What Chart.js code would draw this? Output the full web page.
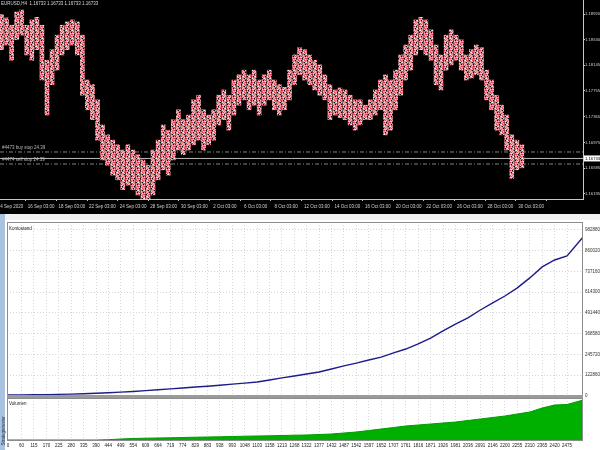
<!DOCTYPE html>
<html>
<head>
<meta charset="utf-8">
<script src="https://cdn.jsdelivr.net/npm/chart.js@4.4.1/dist/chart.umd.min.js"></script>
<style>
  html, body { margin: 0; padding: 0; background: #fff; }
  #wrap { position: relative; width: 600px; height: 450px; overflow: hidden; background: #f0f0f0;
          font-family: "Liberation Sans Narrow", "Liberation Sans", sans-serif; }
  canvas { position: absolute; left: 0; }
  #cPrice { top: 0; background: #000; }
  #cBal { top: 220px; background: #fff; }
  #cVol { top: 398px; background: #fff; }
  #sep { position: absolute; left: 7px; top: 395px; width: 576px; height: 3px; background: #9a9a9a; }
  #tab { position: absolute; left: 0; top: 214px; width: 5px; height: 236px; background: #a9c2e0; }
  #tabtxt { position: absolute; left: -22px; top: 418px; width: 50px; font-size: 4.5px; color: #203050;
            transform: rotate(-90deg); white-space: nowrap; }
  .lbl { position: absolute; font-size: 4.5px; color: #202020; }
</style>
</head>
<body>
<div id="wrap">
  <canvas id="cPrice" width="600" height="214"></canvas>
  <canvas id="cBal" width="600" height="178"></canvas>
  <canvas id="cVol" width="600" height="52"></canvas>
  <div id="sep"></div>
  <div id="tab"></div>
  <div id="tabtxt">Strategietester</div>
  <div class="lbl" style="left:9px;top:226px">Kontostand</div>
  <div class="lbl" style="left:9px;top:401px">Volumen</div>
</div>
<script>
  "use strict";

  // --- EURUSD H4: high/low per column (2 bars each) ---
  const priceHi = [
    1.1891, 1.1886, 1.1875, 1.1895, 1.1898, 1.1875, 1.1883, 1.1887, 1.1875, 1.1822,
    1.1838, 1.1860, 1.1875, 1.1880, 1.1883, 1.1880, 1.1860, 1.1792, 1.1785, 1.1762,
    1.1724, 1.1709, 1.1701, 1.1694, 1.1686, 1.1694, 1.1686, 1.1679, 1.1671, 1.1663,
    1.1686, 1.1701, 1.1724, 1.1716, 1.1732, 1.1747, 1.1732, 1.1739, 1.1762, 1.1769,
    1.1747, 1.1739, 1.1747, 1.1769, 1.1777, 1.1769, 1.1792, 1.1800, 1.1807, 1.1800,
    1.1807, 1.1792, 1.1800, 1.1807, 1.1792, 1.1785, 1.1781, 1.1807, 1.1830, 1.1841,
    1.1838, 1.1830, 1.1822, 1.1815, 1.1800, 1.1785, 1.1777, 1.1780, 1.1777, 1.1769,
    1.1762, 1.1762, 1.1754, 1.1762, 1.1777, 1.1792, 1.1800, 1.1792, 1.1807, 1.1830,
    1.1845, 1.1860, 1.1883, 1.1887, 1.1883, 1.1868, 1.1845, 1.1830, 1.1860, 1.1868,
    1.1860, 1.1853, 1.1830, 1.1838, 1.1845, 1.1841, 1.1807, 1.1792, 1.1769, 1.1754,
    1.1739, 1.1709, 1.1701, 1.1694
  ];
  const priceLo = [
    1.1838, 1.1845, 1.1822, 1.1853, 1.1860, 1.1830, 1.1822, 1.1838, 1.1792, 1.1739,
    1.1785, 1.1807, 1.1830, 1.1838, 1.1845, 1.1830, 1.1769, 1.1747, 1.1732, 1.1701,
    1.1671, 1.1663, 1.1648, 1.1641, 1.1626, 1.1633, 1.1626, 1.1618, 1.1610, 1.1606,
    1.1618, 1.1641, 1.1656, 1.1648, 1.1671, 1.1686, 1.1679, 1.1686, 1.1694, 1.1701,
    1.1686, 1.1694, 1.1701, 1.1724, 1.1732, 1.1716, 1.1739, 1.1754, 1.1762, 1.1747,
    1.1754, 1.1739, 1.1754, 1.1762, 1.1747, 1.1739, 1.1747, 1.1762, 1.1785, 1.1800,
    1.1792, 1.1785, 1.1777, 1.1769, 1.1762, 1.1732, 1.1739, 1.1735, 1.1732, 1.1724,
    1.1716, 1.1724, 1.1732, 1.1732, 1.1739, 1.1747, 1.1709, 1.1716, 1.1747, 1.1769,
    1.1792, 1.1807, 1.1830, 1.1838, 1.1830, 1.1822, 1.1785, 1.1777, 1.1807, 1.1815,
    1.1822, 1.1807, 1.1792, 1.1795, 1.1800, 1.1792, 1.1762, 1.1747, 1.1716, 1.1709,
    1.1686, 1.1643, 1.1656, 1.1659
  ];
  const priceTicks = [1.18920, 1.18530, 1.18145, 1.17755, 1.17365, 1.16975, 1.16585, 1.16195];
  const timeLabels = [
    "14 Sep 2020", "16 Sep 03:00", "18 Sep 03:00", "22 Sep 03:00", "24 Sep 03:00", "28 Sep 03:00",
    "30 Sep 03:00", "2 Oct 03:00", "6 Oct 03:00", "8 Oct 03:00", "12 Oct 03:00", "14 Oct 03:00",
    "16 Oct 03:00", "20 Oct 03:00", "22 Oct 03:00", "26 Oct 03:00", "28 Oct 03:00", "30 Oct 03:00"
  ];
  const symbolTitle = "EURUSD,H4  1.16733 1.16733 1.16733 1.16733";
  const bidPrice = 1.16733;
  const orderNames = ["#4473 buy stop 24.39", "#4474 sell stop 24.39"];
  const orderPrices = [1.16831, 1.16649];

  // --- Strategy tester: balance and volume per trade number ---
  const tradeNo = [
    0, 60, 115, 170, 225, 280, 335, 390, 444, 499, 554, 609, 664, 719, 774, 829,
    883, 938, 993, 1048, 1103, 1158, 1213, 1268, 1322, 1377, 1432, 1487, 1542, 1597,
    1652, 1707, 1761, 1816, 1871, 1926, 1981, 2036, 2091, 2146, 2200, 2255, 2310,
    2365, 2420, 2475, 2546
  ];
  const balance = [
    6000, 6500, 7000, 8000, 9500, 11000, 13000, 16000, 19000, 23000, 27000, 32000,
    37000, 42000, 47000, 53000, 58000, 64000, 70000, 76000, 83000, 95000, 107000,
    118000, 130000, 142000, 160000, 178000, 195000, 213000, 230000, 255000, 278000,
    308000, 343000, 385000, 426000, 462000, 509000, 551000, 592000, 640000, 699000,
    764000, 805000, 829000, 941000
  ];
  const volume = [
    0, 0, 0, 0, 0, 0, 0, 0, 0.3, 1, 1.5, 1.8, 2, 2.2, 2.5, 2.8,
    3, 3.2, 3.5, 3.8, 4, 4.2, 4.5, 4.8, 5, 5.5, 6, 7, 8, 9.5,
    11, 12.5, 14, 15, 16, 17, 18, 19.5, 21, 22.5, 24, 26, 28,
    32, 35, 35.5, 40
  ];
  const balanceTicks = [0, 122860, 245720, 368580, 491440, 614300, 737160, 860020, 982880];

  const FONT = { family: "'Liberation Sans Narrow', 'Liberation Sans', sans-serif", size: 4.5 };
  const FONT_SMALL = { family: "'Liberation Sans Narrow', 'Liberation Sans', sans-serif", size: 4.2 };

  function fixBox(w, h) {
    return function (s) {
      if (w != null) s.width = w;
      if (h != null) s.height = h;
      s.paddingLeft = 0; s.paddingRight = 0; s.paddingTop = 0; s.paddingBottom = 0;
    };
  }

  // speckled fill standing in for the dense trade arrows on the bars
  function speckle(ctx) {
    const P = "#f27890", R = "#e04058", L = "#f8b4c4", W = "#fff0f4", K = "#000000",
      G = "#62a862", B = "#6070e0", S = "#f09a8a";
    const px = [
      P, R, L, S, P, K,
      L, W, P, R, L, P,
      R, P, K, L, S, R,
      S, L, R, P, G, L,
      P, K, L, W, R, P,
      L, R, P, S, L, B,
      W, P, S, R, K, L,
      R, L, P, L, P, R
    ];
    const c = document.createElement("canvas");
    c.width = 6; c.height = 8;
    const g = c.getContext("2d");
    px.forEach(function (col, i) {
      g.fillStyle = col;
      g.fillRect(i % 6, Math.floor(i / 6), 1, 1);
    });
    return ctx.createPattern(c, "repeat");
  }

  // texts on the price chart (title, order labels, bid box)
  const mtText = {
    id: "mtText",
    afterDraw(chart) {
      const ctx = chart.ctx;
      const y = chart.scales.y;
      const area = chart.chartArea;
      ctx.save();
      ctx.font = "4.5px 'Liberation Sans Narrow', 'Liberation Sans', sans-serif";
      ctx.textBaseline = "middle";
      ctx.fillStyle = "#d8d8d8";
      ctx.textAlign = "left";
      ctx.fillText(symbolTitle, 1, 4);
      orderNames.forEach(function (n, i) {
        ctx.fillStyle = "#b8b8b8";
        ctx.fillText(n, 2, y.getPixelForValue(orderPrices[i]) - 4);
      });
      const by = y.getPixelForValue(bidPrice);
      ctx.fillStyle = "#ffffff";
      ctx.fillRect(area.right + 1, by - 3, 16, 6);
      ctx.fillStyle = "#000000";
      ctx.font = "4.2px 'Liberation Sans Narrow', 'Liberation Sans', sans-serif";
      ctx.fillText(bidPrice.toFixed(5), area.right + 2, by);
      ctx.restore();
    }
  };

  const frame = {
    id: "frame",
    afterDraw(chart) {
      const a = chart.chartArea;
      const ctx = chart.ctx;
      ctx.save();
      ctx.strokeStyle = "#8c8c8c";
      ctx.lineWidth = 1;
      ctx.strokeRect(a.left + 0.5, a.top + 0.5, a.right - a.left - 1, a.bottom - a.top);
      ctx.restore();
    }
  };

  // --- price chart ---
  const ctxP = document.getElementById("cPrice").getContext("2d");
  const cols = priceHi.map(function (h, i) { return { x: i, y: [priceLo[i], h] }; });
  const X0 = -0.3, X1 = 115.1;
  function hline(p, color, dash) {
    return {
      type: "line", data: [{ x: X0, y: p }, { x: X1, y: p }],
      borderColor: color, borderWidth: 1, borderDash: dash, pointRadius: 0
    };
  }
  new Chart(ctxP, {
    type: "bar",
    data: {
      datasets: [
        { data: cols, backgroundColor: speckle(ctxP), barThickness: 4, grouped: false },
        hline(orderPrices[0], "#6f8f6f", [4, 2, 1, 2]),
        hline(bidPrice, "#bdbdbd", []),
        hline(orderPrices[1], "#6f8f6f", [4, 2, 1, 2])
      ]
    },
    options: {
      responsive: false, animation: false,
      layout: { padding: 0 },
      plugins: { legend: { display: false }, tooltip: { enabled: false } },
      scales: {
        x: {
          type: "linear", min: X0, max: X1, offset: false,
          grid: { drawOnChartArea: false, tickLength: 2, color: "#c8c8c8" },
          border: { display: true, color: "#c8c8c8" },
          afterBuildTicks: function (s) {
            s.ticks = timeLabels.map(function (t, k) { return { value: 1.8 + 6.06 * k }; });
          },
          ticks: {
            autoSkip: false, maxRotation: 0, color: "#d0d0d0", font: FONT, padding: 3,
            callback: function (v, i) { return timeLabels[i]; }
          },
          afterFit: fixBox(null, 15)
        },
        y: {
          position: "right", min: 1.16119, max: 1.19132,
          grid: { drawOnChartArea: false, tickLength: 2, color: "#c8c8c8" },
          border: { display: true, color: "#c8c8c8" },
          afterBuildTicks: function (s) { s.ticks = priceTicks.map(function (v) { return { value: v }; }); },
          ticks: { color: "#d0d0d0", font: FONT_SMALL, padding: 0, callback: function (v) { return v.toFixed(5); } },
          afterFit: fixBox(17, null)
        }
      }
    },
    plugins: [mtText]
  });

  // --- balance chart ---
  const XT0 = -4.4, XT1 = 2545.6;
  const gridStyle = { color: "#d6d6d6", drawTicks: false };
  new Chart(document.getElementById("cBal"), {
    type: "line",
    data: {
      datasets: [{
        data: tradeNo.map(function (t, i) { return { x: t, y: balance[i] }; }),
        borderColor: "#1c1c8a", borderWidth: 1.4, pointRadius: 0, tension: 0
      }]
    },
    options: {
      responsive: false, animation: false,
      layout: { padding: { left: 7, top: 2 } },
      plugins: { legend: { display: false }, tooltip: { enabled: false } },
      scales: {
        x: {
          type: "linear", min: XT0, max: XT1,
          grid: gridStyle, border: { display: false, dash: [1, 2] },
          afterBuildTicks: function (s) { s.ticks = tradeNo.slice(0, -1).map(function (v) { return { value: v }; }); },
          ticks: { display: false },
          afterFit: fixBox(null, 2)
        },
        y: {
          position: "right", min: 0, max: 1030000,
          grid: gridStyle, border: { display: false, dash: [1, 2] },
          afterBuildTicks: function (s) { s.ticks = balanceTicks.map(function (v) { return { value: v }; }); },
          ticks: { color: "#303030", font: FONT, padding: 2, callback: function (v) { return String(v); } },
          afterFit: fixBox(17, null)
        }
      }
    },
    plugins: [frame]
  });

  // --- volume chart ---
  new Chart(document.getElementById("cVol"), {
    type: "line",
    data: {
      datasets: [{
        data: tradeNo.map(function (t, i) { return { x: t, y: volume[i] }; }),
        borderColor: "#009a00", backgroundColor: "#00b000", fill: "origin",
        borderWidth: 1, pointRadius: 0, tension: 0
      }]
    },
    options: {
      responsive: false, animation: false,
      layout: { padding: { left: 7 } },
      plugins: { legend: { display: false }, tooltip: { enabled: false } },
      scales: {
        x: {
          type: "linear", min: XT0, max: XT1,
          grid: gridStyle, border: { display: false, dash: [1, 2] },
          afterBuildTicks: function (s) { s.ticks = tradeNo.slice(0, -1).map(function (v) { return { value: v }; }); },
          ticks: { autoSkip: false, maxRotation: 0, color: "#202020", font: FONT, padding: 3,
                   callback: function (v) { return String(v); } },
          afterFit: fixBox(null, 10)
        },
        y: {
          position: "right", min: 0, max: 42,
          grid: { display: false }, border: { display: false },
          ticks: { display: false },
          afterFit: fixBox(17, null)
        }
      }
    },
    plugins: [frame]
  });
</script>
</body>
</html>
